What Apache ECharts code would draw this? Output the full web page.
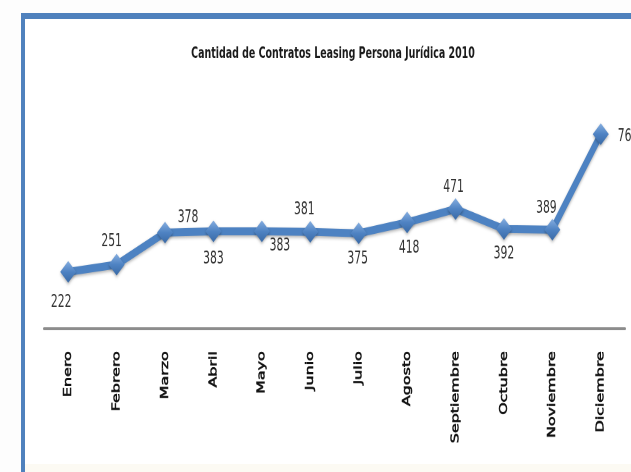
<!DOCTYPE html>
<html>
<head>
<meta charset="utf-8">
<title>Cantidad de Contratos Leasing Persona Jurídica 2010</title>
<script src="https://cdn.jsdelivr.net/npm/echarts@6/dist/echarts.min.js"></script>
<style>
  html, body { margin: 0; padding: 0; background: #fdfdfd; }
  #wrap { position: relative; width: 631px; height: 472px; }
  /* the chart is laid out on a short canvas and stretched vertically */
  #chart { position: absolute; left: 0; top: 0; width: 631px; height: 326px;
           transform: scaleY(1.448); transform-origin: 0 0; }
</style>
</head>
<body>
<div id="wrap"><div id="chart"></div></div>
<script>
// Monthly leasing contracts, legal entities, 2010
const months = ['Enero', 'Febrero', 'Marzo', 'Abril', 'Mayo', 'Junio',
                'Julio', 'Agosto', 'Septiembre', 'Octubre', 'Noviembre', 'Diciembre'];
const contracts = [222, 251, 378, 383, 383, 381, 375, 418, 471, 392, 389, 768];

// label nudges (px from marker centre), one per month
const labelNudges = [[-7, 21], [-5, -16], [23, -10], [0, 19], [18, 10], [-6, -15],
                     [-1, 18], [2, 18], [-2, -15], [0, 17], [-6, -15], [17, 2]];

const chart = echarts.init(document.getElementById('chart'), null,
  { renderer: 'canvas', devicePixelRatio: 2, width: 631, height: 326 });

const seriesData = contracts.map((v, i) => ({
  value: v,
  label: {
    offset: labelNudges[i],
    align: i === contracts.length - 1 ? 'left' : 'center'
  }
}));

chart.setOption({
  animation: false,
  backgroundColor: '#fdfdfd',
  graphic: [
    {
      type: 'rect', z: -10, silent: true,
      shape: { x: 23, y: 11, width: 700, height: 500 },
      style: { fill: '#ffffff', stroke: '#4f81bd', lineWidth: 4 }
    },
    {
      type: 'rect', z: -9, silent: true,
      shape: { x: 25, y: 320.5, width: 700, height: 20 },
      style: { fill: '#fcfaf3' }
    }
  ],
  title: {
    text: 'Cantidad de Contratos Leasing Persona Jurídica 2010',
    left: 333, top: 32, padding: 0, textAlign: 'center',
    textStyle: {
      fontFamily: "'Liberation Sans Narrow', 'DejaVu Sans Condensed', sans-serif",
      fontSize: 10.5, fontWeight: 'bold', color: '#1a1a1a'
    }
  },
  grid: { left: 44, right: 6, top: 87, bottom: 99.5, containLabel: false },
  xAxis: {
    type: 'category',
    data: months,
    boundaryGap: true,
    axisLine: { lineStyle: { color: '#8c8c8c', width: 2 } },
    axisTick: { show: false },
    axisLabel: {
      rotate: 90, margin: 16, interval: 0,
      fontFamily: "'DejaVu Sans', sans-serif", fontSize: 11, color: '#111',
      textBorderColor: '#111', textBorderWidth: 0.5
    }
  },
  yAxis: {
    type: 'value', min: 0, max: 800, show: false,
    splitLine: { show: false }
  },
  series: [{
    type: 'line',
    data: seriesData,
    symbol: 'diamond',
    symbolSize: [16, 15],
    lineStyle: {
      color: '#4d82c2', width: 5.5,
      shadowColor: 'rgba(0,0,0,0.3)', shadowBlur: 2, shadowOffsetY: 1.2
    },
    itemStyle: {
      color: new echarts.graphic.LinearGradient(0, 0, 0, 1, [
        { offset: 0, color: '#86aee0' },
        { offset: 0.5, color: '#4f83c3' },
        { offset: 1, color: '#3a6aa6' }
      ]),
      shadowColor: 'rgba(0,0,0,0.3)', shadowBlur: 2, shadowOffsetY: 1.2
    },
    label: {
      show: true,
      position: 'inside',
      verticalAlign: 'middle',
      fontFamily: "'Liberation Sans Narrow', 'DejaVu Sans Condensed', sans-serif",
      fontSize: 12,
      color: '#333'
    },
    z: 3
  }]
});
</script>
</body>
</html>
